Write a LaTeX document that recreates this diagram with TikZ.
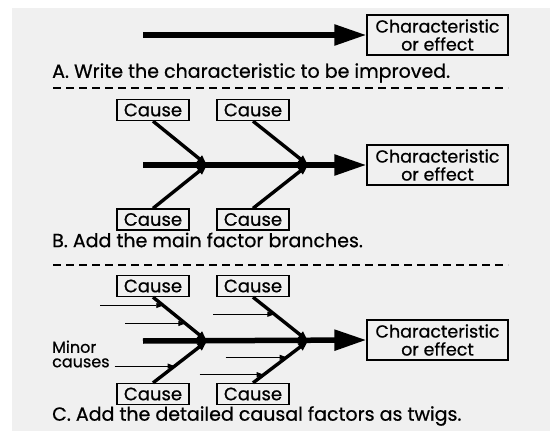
\documentclass[tikz,border=0pt]{standalone}
\usepackage{fontspec}
\setmainfont{Poppins}
\newfontfamily\medfont{Poppins}[FakeBold=0.7]
\usetikzlibrary{arrows.meta,calc}

\begin{document}
\begin{tikzpicture}[
    x=1pt, y=-1pt,
    effect/.style={draw, line width=1.3pt, align=center, inner sep=0pt, minimum width=141pt, minimum height=40pt, font=\medfont\fontsize{17.5}{18}\selectfont},
    causebox/.style={draw, line width=1.3pt, inner sep=0pt, minimum width=72pt, minimum height=21pt, font=\medfont\fontsize{18}{18}\selectfont},
    caption/.style={anchor=west, inner sep=0pt, font=\medfont\fontsize{19}{20}\selectfont},
    spine/.style={-{Triangle[length=32pt, width=20pt]}, line width=5.5pt},
    branch/.style={-{Triangle[length=10pt, width=8pt]}, line width=3.4pt},
    twig/.style={-{Triangle[length=7pt, width=5pt]}, line width=0.9pt},
    sep/.style={dashed, dash pattern=on 8pt off 5pt, line width=1.3pt}
]
\useasboundingbox (0,0) rectangle (550,431);
\fill[white] (0,0) rectangle (550,431);
\fill[black!6] (12,8) rectangle (550,431);

% A: the characteristic
\node[effect] (effA) at (437.5,35) {Characteristic\\or effect};
\coordinate (tailA) at (143,35);
\draw[spine] (tailA) -- (effA.west);
\node[caption] (capA) at (52,73) {A. Write the characteristic to be improved.};
\draw[sep] (53,88) -- (508,88);

% B: main factor branches
\node[effect] (effB) at (437.5,165) {Characteristic\\or effect};
\coordinate (tailB) at (143,165);
\coordinate (jB1) at (207,165);
\coordinate (jB2) at (308,165);
\node[causebox] (cB1) at (153,110) {Cause};
\node[causebox] (cB2) at (253,110) {Cause};
\node[causebox] (cB3) at (153,219.5) {Cause};
\node[causebox] (cB4) at (253,219.5) {Cause};
\draw[spine] (tailB) -- (effB.west);
\draw[branch] (cB1.south) -- (jB1);
\draw[branch] (cB3.north) -- (jB1);
\draw[branch] (cB2.south) -- (jB2);
\draw[branch] (cB4.north) -- (jB2);
\node[caption] (capB) at (52,240) {B. Add the main factor branches.};
\draw[sep] (53,265) -- (508,265);

% C: twigs
\node[effect] (effC) at (437.5,340) {Characteristic\\or effect};
\coordinate (tailC) at (143,341);
\coordinate (jC1) at (207,341);
\coordinate (jC2) at (308,341);
\node[causebox] (cC1) at (153,286) {Cause};
\node[causebox] (cC2) at (253,286) {Cause};
\node[causebox] (cC3) at (153,394) {Cause};
\node[causebox] (cC4) at (253,394) {Cause};
\draw[spine] (tailC) -- (effC.west);
\draw[branch] (cC1.south) -- (jC1);
\draw[branch] (cC3.north) -- (jC1);
\draw[branch] (cC2.south) -- (jC2);
\draw[branch] (cC4.north) -- (jC2);
\node[anchor=west, align=left, inner sep=0pt, font=\medfont\fontsize{16}{14.5}\selectfont] (minor) at (52,354) {Minor\\causes};
% twig tips on the branches, tails to the left
\coordinate (tp1) at ($(cC1.south)!0.19!(jC1)$);
\coordinate (tp2) at ($(cC1.south)!0.6!(jC1)$);
\coordinate (tp3) at ($(cC2.south)!0.39!(jC2)$);
\coordinate (tp4) at ($(cC3.north)!0.4!(jC1)$);
\coordinate (tp5) at ($(cC4.north)!0.61!(jC2)$);
\coordinate (tp6) at ($(cC4.north)!0.195!(jC2)$);
\foreach \tip/\len in {tp1/63, tp2/60, tp3/61, tp4/60, tp5/61, tp6/64} {
    \coordinate (tl-\tip) at ($(\tip)+(-\len,0)$);
    \draw[twig] (tl-\tip) -- (\tip);
}
\node[caption] (capC) at (52,416) {C. Add the detailed causal factors as twigs.};
\end{tikzpicture}
\end{document}
